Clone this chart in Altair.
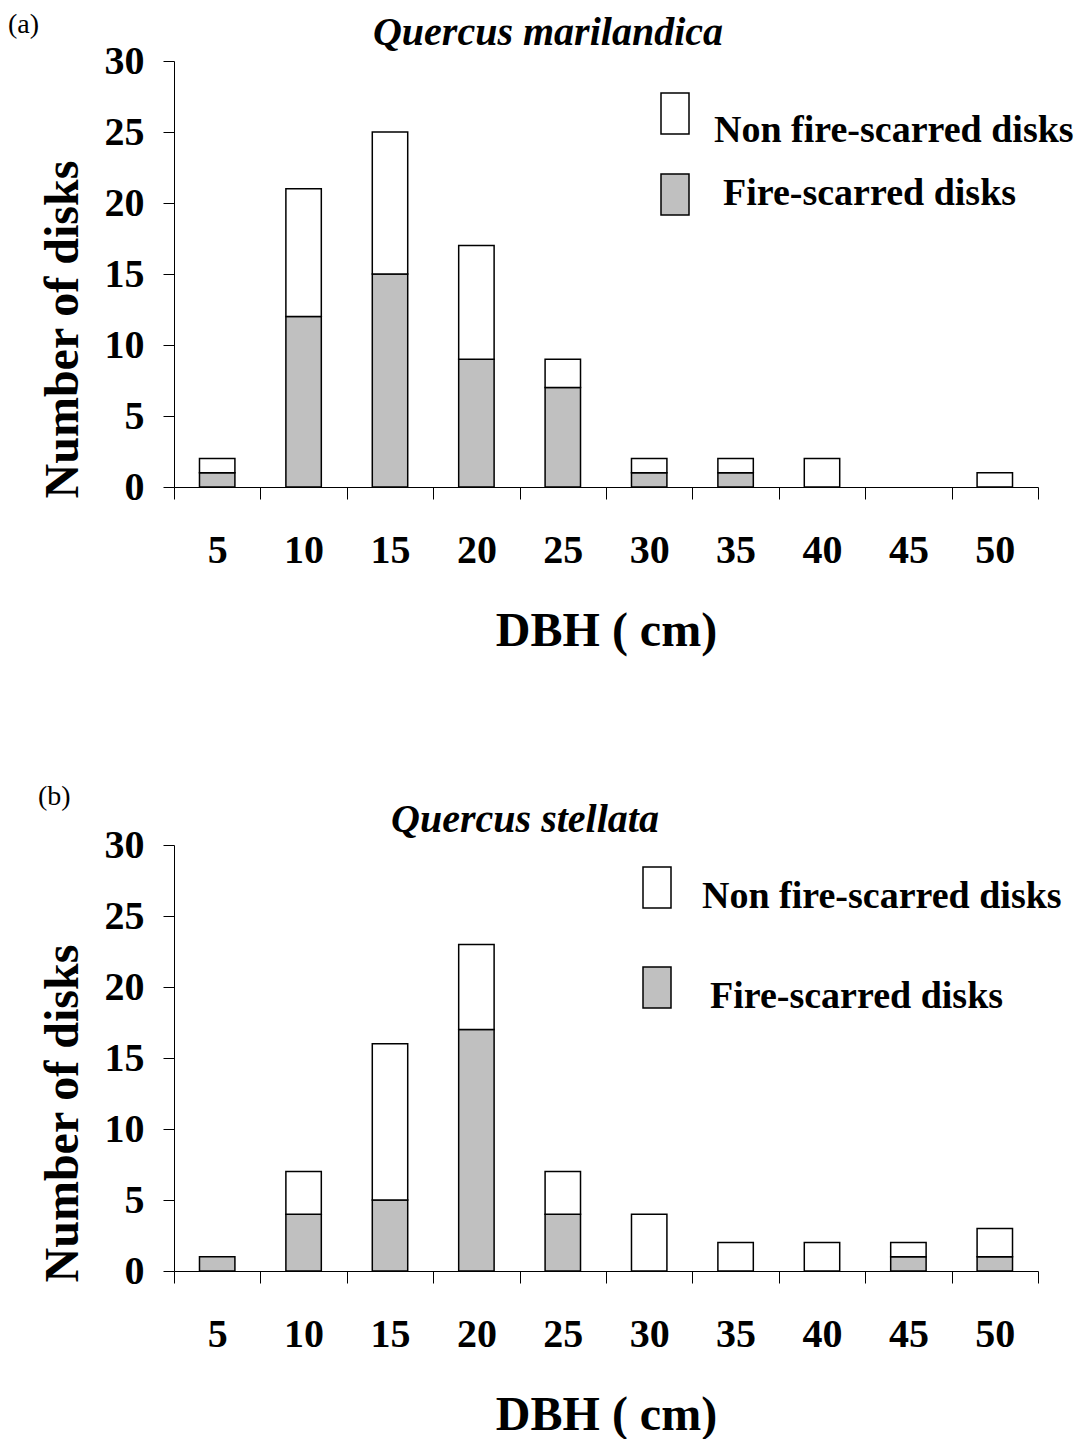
import altair as alt
import pandas as pd

# ---- data ----
dbh = ["5", "10", "15", "20", "25", "30", "35", "40", "45", "50"]

# (a) Quercus marilandica
a_fire = [1, 12, 15, 9, 7, 1, 1, 0, 0, 0]
a_total = [2, 21, 25, 17, 9, 2, 2, 2, 0, 1]

# (b) Quercus stellata
b_fire = [1, 4, 5, 17, 4, 0, 0, 0, 1, 1]
b_total = [1, 7, 16, 23, 7, 4, 2, 2, 2, 3]

NON = "Non fire-scarred disks"
FIRE = "Fire-scarred disks"
y_ticks = [0, 5, 10, 15, 20, 25, 30]

FONT = "Liberation Serif"
GRAY = "#c0c0c0"


def make_df(fire, total):
    rows = []
    for d, f, t in zip(dbh, fire, total):
        rows.append({"dbh": d, "type": FIRE, "ord": 0, "count": f})
        rows.append({"dbh": d, "type": NON, "ord": 1, "count": t - f})
    df = pd.DataFrame(rows)
    return df[df["count"] > 0]


one = pd.DataFrame({"k": [0]})


def txt(text, x, y, size, weight="bold", style="normal", align="left"):
    return alt.Chart(one).mark_text(
        text=text, font=FONT, fontSize=size, fontWeight=weight,
        fontStyle=style, align=align, baseline="alphabetic", color="black"
    ).encode(x=alt.value(x), y=alt.value(y))


def box(x, y, w, h, fill):
    return alt.Chart(one).mark_rect(
        fill=fill, stroke="black", strokeWidth=1.5
    ).encode(x=alt.value(x), x2=alt.value(x + w), y=alt.value(y), y2=alt.value(y + h))


def panel(df, letter, letter_xy, species, species_xy, leg):
    bars = alt.Chart(df).mark_bar(
        stroke="black", strokeWidth=1.5, width=alt.RelativeBandSize(0.41)
    ).encode(
        x=alt.X("dbh:N", sort=dbh, title="DBH ( cm)",
                scale=alt.Scale(domain=dbh, paddingInner=0, paddingOuter=0),
                axis=alt.Axis(labelAngle=0, tickBand="extent", tickSize=12,
                              labelPadding=31, titlePadding=37)),
        y=alt.Y("count:Q", stack="zero", title="Number of disks",
                scale=alt.Scale(domain=[0, 30]),
                axis=alt.Axis(values=y_ticks, tickSize=11, labelPadding=19,
                              titleX=-87, titleY=268, titleAngle=270,
                              titleBaseline="bottom", titleAlign="center")),
        fill=alt.Fill("type:N", scale=alt.Scale(domain=[NON, FIRE], range=["white", GRAY]),
                      legend=None),
        order=alt.Order("ord:Q"),
    )
    layers = [
        bars,
        txt(letter, letter_xy[0], letter_xy[1], 28, weight="normal"),
        txt(species, species_xy[0], species_xy[1], 40, style="italic", align="center"),
        box(leg["bx"], leg["ny"], 28, 41, "white"),
        box(leg["bx"], leg["fy"], 28, 41, GRAY),
        txt(NON, leg["ntx"], leg["nty"], 38),
        txt(FIRE, leg["ftx"], leg["fty"], 38),
    ]
    return alt.layer(*layers).properties(width=864, height=426)


top = panel(make_df(a_fire, a_total), "(a)", (-166, -28), "Quercus marilandica", (374, -16),
            {"bx": 487, "ny": 32, "fy": 113, "ntx": 540, "nty": 81, "ftx": 549, "fty": 144})
bottom = panel(make_df(b_fire, b_total), "(b)", (-136, -40), "Quercus stellata", (351, -13),
               {"bx": 469, "ny": 22, "fy": 122, "ntx": 528, "nty": 63, "ftx": 536, "fty": 163})

chart = alt.vconcat(top, bottom, spacing=128).properties(
    padding={"left": 0, "top": 3, "right": 0, "bottom": 0}
).configure_view(
    stroke=None
).configure_axis(
    grid=False,
    domainColor="black", domainWidth=1,
    tickColor="black", tickWidth=1,
    labelFont=FONT, labelFontSize=40, labelFontWeight="bold", labelColor="black",
    titleFont=FONT, titleFontSize=48, titleFontWeight="bold", titleColor="black",
)

chart.save("out.html", embed_options={"renderer": "svg", "actions": False})
